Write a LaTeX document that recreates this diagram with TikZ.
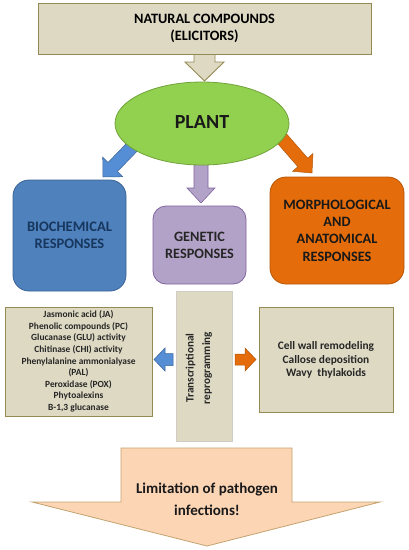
\documentclass[tikz,border=0pt]{standalone}
\usepackage{fontspec}
\setmainfont{Carlito}
\usetikzlibrary{calc,shapes.geometric}
\definecolor{beige}{HTML}{DDD9C3}
\definecolor{beigeline}{HTML}{948A54}
\definecolor{plantg}{HTML}{92D050}
\definecolor{plantline}{HTML}{71A33A}
\definecolor{bioblue}{HTML}{4F81BD}
\definecolor{biobline}{HTML}{3A6496}
\definecolor{arrblue}{HTML}{558ED5}
\definecolor{genp}{HTML}{B3A2C7}
\definecolor{genline}{HTML}{8064A2}
\definecolor{morpho}{HTML}{E46C0A}
\definecolor{morpholine}{HTML}{B65708}
\definecolor{peach}{HTML}{FCD5B5}
\definecolor{peachline}{HTML}{C4A36F}
\definecolor{navy}{HTML}{17375E}
\tikzset{
  txt/.style={font=\bfseries, align=center, inner sep=0pt},
  beigebox/.style={draw=beigeline, fill=beige, line width=0.9pt},
}
% #1 style, #2 start, #3 end, #4 shaft half width, #5 head half width, #6 head length
\newcommand\blockarrow[6]{%
  \draw[#1] let \p1=(#2), \p2=(#3),
    \n1={atan2(\y2-\y1,\x2-\x1)}, \n2={veclen(\x2-\x1,\y2-\y1)} in
    [shift={(\p1)}, rotate=\n1]
    (0,-#4) -- ({\n2-#6},-#4) -- ({\n2-#6},-#5) -- (\n2,0)
    -- ({\n2-#6},#5) -- ({\n2-#6},#4) -- (0,#4) -- cycle;
}
\begin{document}
\begin{tikzpicture}[x=1pt,y=-1pt]
\useasboundingbox (0,0) rectangle (409,550);
\fill[white] (0,0) rectangle (409,550);

% top arrow (drawn first, under box)
\coordinate (ta1) at (204.5,52);
\coordinate (ta2) at (204.5,81);
\blockarrow{beigebox}{ta1}{ta2}{10.5}{19.5}{19}

\node[beigebox, minimum width=333pt, minimum height=51pt, inner sep=0pt] (top) at (204.5,28.5) {};
\node[txt, font=\bfseries\fontsize{14.3}{17}\selectfont] (toptxt) at (top) {NATURAL COMPOUNDS\\(ELICITORS)};

% arrows from plant
\coordinate (ba1) at (136,143);
\coordinate (ba2) at (103,177);
\blockarrow{fill=arrblue, draw=biobline, line width=0.5pt}{ba1}{ba2}{6.5}{14}{14}
\coordinate (oa1) at (278,134);
\coordinate (oa2) at (312,173);
\blockarrow{fill=morpho, draw=morpholine, line width=0.5pt}{oa1}{oa2}{6.5}{13.5}{14}
\coordinate (pa1) at (201,160);
\coordinate (pa2) at (201,203);
\blockarrow{fill=genp, draw=genline, line width=0.6pt}{pa1}{pa2}{7}{14}{15}

\node[ellipse, draw=plantline, fill=plantg, line width=0.8pt, minimum width=174pt, minimum height=83pt, inner sep=0pt] (plant) at (202,123.5) {};
\node[txt, font=\bfseries\fontsize{20}{22}\selectfont, text=black!90] (planttxt) at (202,122) {PLANT};

% response boxes
\node[draw=biobline, fill=bioblue, line width=0.8pt, rounded corners=16pt, minimum width=113pt, minimum height=111pt] (bio) at (69.5,235.5) {};
\node[txt, text=navy, font=\bfseries\fontsize{14.5}{17}\selectfont] (biotxt) at (69.5,235.5) {BIOCHEMICAL\\RESPONSES};

\node[draw=genline, fill=genp, line width=0.8pt, rounded corners=13pt, minimum width=93pt, minimum height=78pt] (gen) at (199.5,245) {};
\node[txt, text=black!85, font=\bfseries\fontsize{14.3}{17}\selectfont] (gentxt) at (199.5,245.5) {GENETIC\\RESPONSES};

\node[draw=morpholine, fill=morpho, line width=0.8pt, rounded corners=16pt, minimum width=134pt, minimum height=107pt] (mor) at (337,230.5) {};
\node[txt, text=black!90, font=\bfseries\fontsize{14.3}{17.4}\selectfont] (mortxt) at (337,230.5) {MORPHOLOGICAL\\AND\\ANATOMICAL\\RESPONSES};

% lower row
\node[beigebox, minimum width=147pt, minimum height=109pt, inner sep=0pt, line width=0.7pt] (list) at (78.5,361.5) {};
\node[txt, text=black!85, font=\bfseries\fontsize{9.4}{11.6}\selectfont] (listtxt) at (78.5,361.5) {Jasmonic acid (JA)\\Phenolic compounds (PC)\\Glucanase (GLU) activity\\Chitinase (CHI) activity\\Phenylalanine ammonialyase\\(PAL)\\Peroxidase (POX)\\Phytoalexins\\B-1,3 glucanase};

\node[fill=beige, draw=beige!80!black!60, line width=0.3pt, minimum width=56pt, minimum height=150pt, inner sep=0pt] (trans) at (204,366.5) {};
\node[txt, rotate=90, text=black!85, font=\bfseries\fontsize{11.2}{16.5}\selectfont] (transtxt) at (199,368) {Transcriptional\\reprogramming};

\node[beigebox, minimum width=134pt, minimum height=105pt, inner sep=0pt, line width=0.7pt] (right) at (326,359.5) {};
\node[txt, text=black!85, font=\bfseries\fontsize{11.4}{13.3}\selectfont] (righttxt) at (326,360) {Cell wall remodeling\\Callose deposition\\Wavy\ \ thylakoids};

\coordinate (la1) at (173,359.5);
\coordinate (la2) at (154,359.5);
\blockarrow{fill=arrblue, draw=biobline, line width=0.5pt}{la1}{la2}{6}{11.5}{11}
\coordinate (ra1) at (235,359.5);
\coordinate (ra2) at (256,359.5);
\blockarrow{fill=morpho, draw=morpholine, line width=0.5pt}{ra1}{ra2}{5.5}{11.5}{11}

% bottom arrow
\draw[fill=peach, draw=peachline, line width=0.8pt] (121,448) -- (292,448) -- (292,502) -- (380,502) -- (207,546) -- (32,502) -- (121,502) -- cycle;
\node[txt, text=black!90, font=\bfseries\fontsize{15}{22}\selectfont] (limtxt) at (207,499) {Limitation of pathogen\\infections!};
\end{tikzpicture}
\end{document}
